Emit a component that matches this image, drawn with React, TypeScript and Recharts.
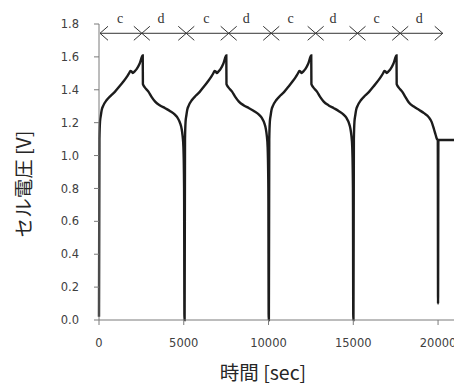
import { LineChart, Line, XAxis, YAxis, ReferenceLine, ReferenceDot, Label } from "recharts";

// charge / discharge cycles
const timeSec = [
  0, 25, 60, 110, 160, 260, 455, 700, 946, 1200, 1437, 1650, 1800, 1850, 1920, 1992, 2100, 2229, 2400, 2580,
  2590, 2700, 2915, 3100, 3311, 3600, 3902, 4200, 4493, 4650, 4789, 4870, 4925, 4980, 5020, 5040,
  5050, 5074, 5107, 5155, 5203, 5298, 5484, 5717, 5952, 6194, 6420, 6623, 6766, 6814, 6881, 6950, 7053, 7175, 7338, 7510,
  7520, 7632, 7850, 8038, 8252, 8546, 8851, 9156, 9451, 9613, 9756, 9837, 9893, 9949, 9990, 10010,
  10020, 10044, 10078, 10127, 10175, 10272, 10461, 10698, 10937, 11183, 11412, 11619, 11764, 11813, 11880, 11950, 12055, 12180, 12346, 12520,
  12530, 12641, 12858, 13044, 13256, 13548, 13851, 14153, 14445, 14607, 14748, 14828, 14884, 14939, 14980, 15000,
  15010, 15035, 15069, 15118, 15167, 15266, 15458, 15699, 15941, 16191, 16424, 16634, 16781, 16830, 16899, 16970, 17077, 17203, 17372, 17550,
  17560, 17670, 17885, 18070, 18280, 18570, 18870, 19170, 19460, 19620, 19760, 19860, 19940, 19985, 20000, 20020, 21000,
];

const cellVoltage = [
  0.02, 1.1, 1.206, 1.245, 1.277, 1.305, 1.338, 1.365, 1.389, 1.42, 1.45, 1.48, 1.505, 1.515, 1.512, 1.502, 1.512, 1.527, 1.56, 1.608,
  1.434, 1.415, 1.389, 1.357, 1.328, 1.305, 1.288, 1.27, 1.247, 1.227, 1.196, 1.165, 1.125, 1.05, 0.8, 0,
  0, 1.1, 1.206, 1.245, 1.277, 1.305, 1.338, 1.365, 1.389, 1.42, 1.45, 1.48, 1.505, 1.515, 1.512, 1.502, 1.512, 1.527, 1.56, 1.608,
  1.434, 1.415, 1.389, 1.357, 1.328, 1.305, 1.288, 1.27, 1.247, 1.227, 1.196, 1.165, 1.125, 1.05, 0.8, 0,
  0, 1.1, 1.206, 1.245, 1.277, 1.305, 1.338, 1.365, 1.389, 1.42, 1.45, 1.48, 1.505, 1.515, 1.512, 1.502, 1.512, 1.527, 1.56, 1.608,
  1.434, 1.415, 1.389, 1.357, 1.328, 1.305, 1.288, 1.27, 1.247, 1.227, 1.196, 1.165, 1.125, 1.05, 0.8, 0,
  0, 1.1, 1.206, 1.245, 1.277, 1.305, 1.338, 1.365, 1.389, 1.42, 1.45, 1.48, 1.505, 1.515, 1.512, 1.502, 1.512, 1.527, 1.56, 1.608,
  1.434, 1.415, 1.389, 1.357, 1.322, 1.298, 1.278, 1.258, 1.232, 1.205, 1.16, 1.125, 1.1, 1.095, 0.1, 1.095, 1.095,
];

const xTicks = [0, 5000, 10000, 15000, 20000];
const yTicks = [0, 0.2, 0.4, 0.6, 0.8, 1.0, 1.2, 1.4, 1.6, 1.8];

// c / d phase arrows along the top
const arrowLevel = 1.7435;
const arrowStart = 59;
const arrowEnd = 20278;
const phaseBounds = [2527, 5148, 7651, 10160, 12781, 15249, 17769];
const phaseLabels = ["c", "d", "c", "d", "c", "d", "c", "d"];
const phaseLabelTimes = [1243, 3650, 6331, 8680, 11302, 13805, 16373, 18893];

const data = timeSec.map((t, i) => ({ t, v: cellVoltage[i] }));

const AX = "#7a7a7a";
const INK = "#333";
const tickStyle = { fill: "#404040", fontSize: 11.5, fontFamily: "DejaVu Sans" };

const Cross = (p: any) => (
  <path
    d={`M${p.cx - 8},${p.cy - 7}L${p.cx + 8},${p.cy + 7}M${p.cx - 8},${p.cy + 7}L${p.cx + 8},${p.cy - 7}`}
    stroke={INK}
    strokeWidth={1}
    fill="none"
  />
);
const HeadLeft = (p: any) => (
  <path d={`M${p.cx + 8},${p.cy - 7}L${p.cx},${p.cy}L${p.cx + 8},${p.cy + 7}`} stroke={INK} strokeWidth={1} fill="none" />
);
const HeadRight = (p: any) => (
  <path d={`M${p.cx - 8},${p.cy - 7}L${p.cx},${p.cy}L${p.cx - 8},${p.cy + 7}`} stroke={INK} strokeWidth={1} fill="none" />
);
const phaseText = (txt: string) => (p: any) => (
  <text x={p.cx} y={p.cy - 10.6} textAnchor="middle" fontSize={14} fontFamily="Liberation Serif" fill={INK}>
    {txt}
  </text>
);

const XTitle = (p: any) => {
  const vb = p.viewBox;
  return (
    <text x={vb.x + vb.width / 2 - 14} y={vb.y + 59.5} textAnchor="middle" fontSize={19.5} fontFamily="Noto Sans CJK JP" fill="#262626">
      時間 [sec]
    </text>
  );
};
const YTitle = (p: any) => {
  const vb = p.viewBox;
  const cx = vb.x + 14.5;
  const cy = vb.y + 160;
  return (
    <text
      x={cx}
      y={cy}
      transform={`rotate(-90 ${cx} ${cy})`}
      textAnchor="middle"
      dominantBaseline="central"
      fontSize={19.5}
      fontFamily="Noto Sans CJK JP"
      fill="#262626"
    >
      セル電圧 [V]
    </text>
  );
};

export default function App() {
  return (
    <div style={{ width: 454, height: 377 }}>
      <LineChart width={454} height={377} data={data} margin={{ top: 16, right: 7, bottom: 0, left: 0 }}>
        <XAxis
          dataKey="t"
          type="number"
          domain={[0, 21000]}
          ticks={xTicks}
          height={65}
          tickSize={5}
          tickMargin={14}
          stroke={AX}
          tick={tickStyle}
        >
          <Label content={XTitle} />
        </XAxis>
        <YAxis
          type="number"
          domain={[0, 1.8]}
          ticks={yTicks}
          width={91}
          tickSize={5}
          tickMargin={15}
          stroke={AX}
          tick={tickStyle}
          tickFormatter={(v: number) => v.toFixed(1)}
        >
          <Label content={YTitle} />
        </YAxis>
        <Line
          dataKey="v"
          type="monotone"
          stroke="#1c1c1c"
          strokeWidth={2.4}
          dot={false}
          activeDot={false}
          isAnimationActive={false}
        />
        <ReferenceLine
          segment={[
            { x: arrowStart, y: arrowLevel },
            { x: arrowEnd, y: arrowLevel },
          ]}
          stroke={INK}
          strokeWidth={1}
        />
        <ReferenceDot x={arrowStart} y={arrowLevel} shape={HeadLeft} />
        <ReferenceDot x={arrowEnd} y={arrowLevel} shape={HeadRight} />
        {phaseBounds.map((t) => (
          <ReferenceDot key={"b" + t} x={t} y={arrowLevel} shape={Cross} />
        ))}
        {phaseLabelTimes.map((t, i) => (
          <ReferenceDot key={"l" + t} x={t} y={arrowLevel} shape={phaseText(phaseLabels[i])} />
        ))}
      </LineChart>
    </div>
  );
}
